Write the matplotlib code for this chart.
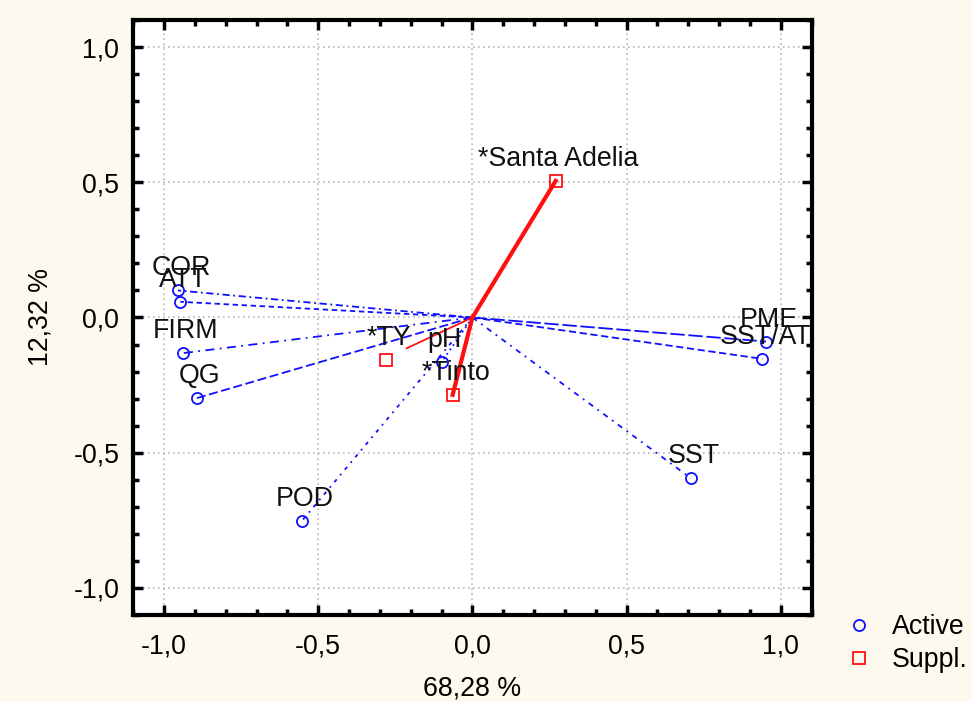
import numpy as np
import matplotlib.pyplot as plt
from matplotlib.ticker import MultipleLocator, FuncFormatter

plt.rcParams['font.family'] = ['Liberation Sans', 'DejaVu Sans']

# active variables (factor 1, factor 2)
act_names = ['COR', 'ATT', 'FIRM', 'QG', 'POD', 'SST', 'PME', 'SST/AT', 'pH']
act_x = [-0.955, -0.947, -0.940, -0.893, -0.552, 0.708, 0.952, 0.940, -0.100]
act_y = [0.100, 0.058, -0.132, -0.298, -0.751, -0.594, -0.089, -0.153, -0.165]

# supplementary variables
sup_names = ['*Santa Adelia', '*TY', '*Tinto']
sup_x = [0.270, -0.280, -0.064]
sup_y = [0.505, -0.159, -0.286]
# end points of the red vectors
sup_line_x = [0.270, -0.213, -0.064]
sup_line_y = [0.505, -0.114, -0.286]

xlabel = '68,28 %'
ylabel = '12,32 %'

blue = '#1010ff'
red = '#ff1010'
fs = 19.3

fig = plt.figure(figsize=(9.72, 7.02), dpi=100, facecolor='#fdf9ee')
ax = fig.add_axes([0.137, 0.124, 0.698, 0.8475])
ax.set_facecolor('white')

styles = [(0, (4, 2, 1, 2)), (0, (3, 2)), (0, (5, 3, 1, 3)), (0, (5, 2)),
          (0, (2, 3, 1, 3)), (0, (3, 3, 1, 3)), (0, (8, 2)), (0, (4, 2)), (0, (1, 2))]
for i in range(len(act_names)):
    ax.plot([0, act_x[i]], [0, act_y[i]], color=blue, lw=1.3, ls=styles[i], zorder=3)
ax.plot(act_x, act_y, 'o', ms=8, mfc='none', mec=blue, mew=1.3, ls='none',
        zorder=4, label='Active')

widths = [3.0, 1.3, 3.0]
for i in range(len(sup_names)):
    ax.plot([0, sup_line_x[i]], [0, sup_line_y[i]], color=red, lw=widths[i], zorder=5)
ax.plot(sup_x, sup_y, 's', ms=8, mfc='none', mec=red, mew=1.3, ls='none',
        zorder=6, label='Suppl.')

for n, x, y in zip(act_names + sup_names, act_x + sup_x, act_y + sup_y):
    ax.annotate(n, (x, y), xytext=(3, 22), textcoords='offset pixels',
                ha='center', va='center', fontsize=fs, color='#111111', zorder=7)

ax.set_xlim(-1.1, 1.1)
ax.set_ylim(-1.1, 1.1)
ax.xaxis.set_major_locator(MultipleLocator(0.5))
ax.yaxis.set_major_locator(MultipleLocator(0.5))
ax.xaxis.set_minor_locator(MultipleLocator(0.1))
ax.yaxis.set_minor_locator(MultipleLocator(0.1))
fmt = FuncFormatter(lambda v, p: ('%.1f' % v).replace('.', ',').replace('-0,0', '0,0'))
ax.xaxis.set_major_formatter(fmt)
ax.yaxis.set_major_formatter(fmt)
ax.tick_params(which='both', direction='in', top=True, right=True, labelsize=fs,
               width=2.5)
ax.tick_params(axis='x', pad=13)
ax.tick_params(axis='y', pad=10)
ax.tick_params(which='major', length=7)
ax.tick_params(which='minor', length=4)
ax.grid(True, which='major', color='#b8b8b8', ls=(0, (1, 2)), lw=1.2)
for s in ax.spines.values():
    s.set_linewidth(3)

ax.set_xlabel(xlabel, fontsize=fs, labelpad=12)
ax.set_ylabel(ylabel, fontsize=fs, labelpad=14)

fig.legend(loc='center left', bbox_to_anchor=(0.84, 0.083), frameon=False,
           fontsize=fs, handletextpad=0.5, labelspacing=0.25, handlelength=1.4)

fig.savefig('out.png', dpi=100, facecolor=fig.get_facecolor())
